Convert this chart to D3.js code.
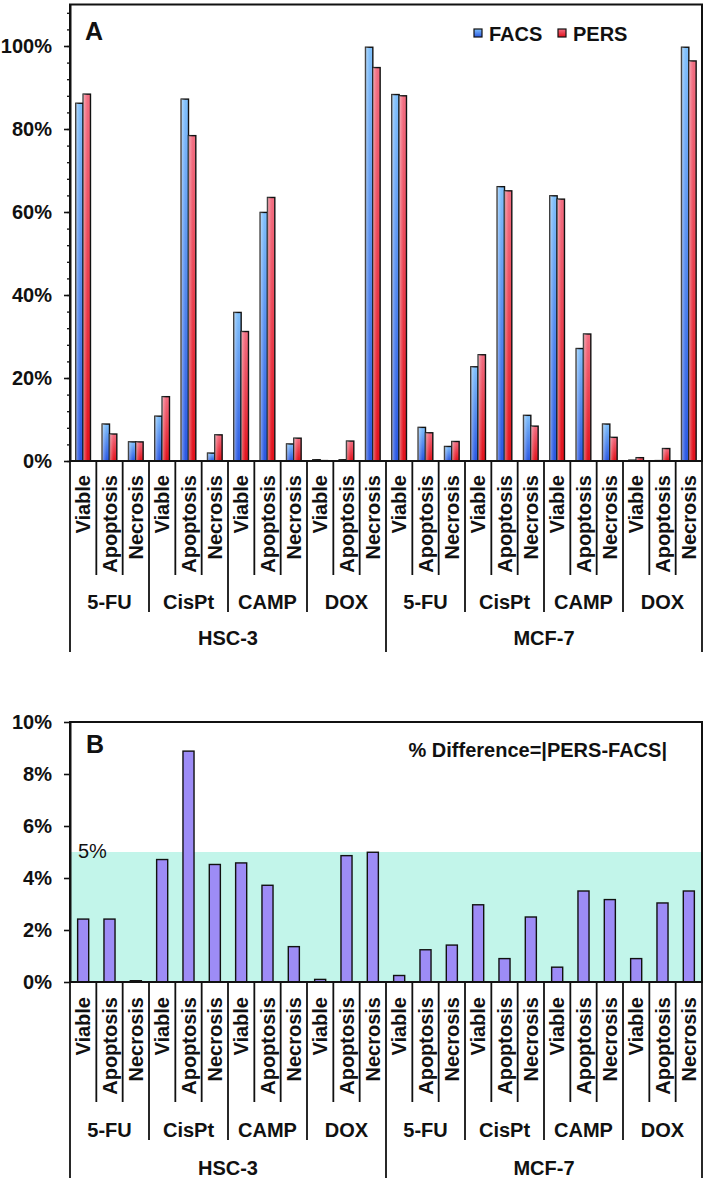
<!DOCTYPE html>
<html><head><meta charset="utf-8">
<script src="https://cdn.jsdelivr.net/npm/d3@7"></script>
<style>
html,body{margin:0;padding:0;background:#fff;}
svg{display:block;font-family:"Liberation Sans",Arial,sans-serif;}
</style></head>
<body>
<svg id="chart" width="707" height="1184"></svg>
<script>
// ---------------- data ----------------
const cellLines = ["HSC-3", "MCF-7"];
const drugs = ["5-FU", "CisPt", "CAMP", "DOX"];
const states = ["Viable", "Apoptosis", "Necrosis"];
const seriesNames = ["FACS", "PERS"];
// Panel A (% of cells), order: cell line > drug > state
const facs = [86.2, 8.9, 4.6, 10.8, 87.2, 1.9, 35.8, 59.9, 4.1, 0.3, 0.3, 99.7,
              88.3, 8.1, 3.5, 22.7, 66.1, 11.0, 63.9, 27.1, 8.9, 0.2, 0.1, 99.7];
const pers = [88.4, 6.5, 4.6, 15.5, 78.4, 6.3, 31.2, 63.5, 5.5, 0.1, 4.8, 94.8,
              88.0, 6.8, 4.7, 25.6, 65.1, 8.4, 63.1, 30.6, 5.7, 0.8, 3.0, 96.4];
// Panel B: |PERS - FACS| (%)
const diff = [2.42, 2.42, 0.05, 4.71, 8.88, 4.52, 4.58, 3.72, 1.36, 0.1, 4.86, 4.99,
              0.25, 1.24, 1.42, 2.97, 0.9, 2.5, 0.57, 3.5, 3.17, 0.9, 3.04, 3.5];
const ticksA = [0, 20, 40, 60, 80, 100];
const minorA = d3.range(0, 110, 4);
const ticksB = [0, 2, 4, 6, 8, 10];
const threshold = 5;
const diffTitle = "% Difference=|PERS-FACS|";

// ---------------- build ----------------
const cats = [];
cellLines.forEach(c => drugs.forEach(d => states.forEach(s => cats.push({cell: c, drug: d, state: s, key: c + "|" + d + "|" + s}))));
const keys = cats.map(d => d.key);

const svg = d3.select("#chart");
const FONT = '"Liberation Sans",Arial,sans-serif';
const FS = 20;
const L = 70, R = 702;

const x = d3.scaleBand().domain(keys).range([L, R]).paddingInner(0).paddingOuter(0);
const xs = d3.scaleBand().domain(seriesNames).range([0, x.bandwidth()]).paddingInner(0).paddingOuter(0.8);
const xB = x.copy().paddingInner(0.58).paddingOuter(0.29);

const yA = d3.scaleLinear().domain([0, 110]).range([461, 4.5]);
const yB = d3.scaleLinear().domain([0, 10]).range([982, 722]);

// gradients
const defs = svg.append("defs");
function grad(id, top, bottom) {
  const g = defs.append("linearGradient").attr("id", id).attr("x1", 0).attr("y1", 0).attr("x2", 0).attr("y2", 1);
  g.append("stop").attr("offset", "0%").attr("stop-color", top);
  g.append("stop").attr("offset", "100%").attr("stop-color", bottom);
}
grad("gF", "#80c0fb", "#2a58e2");
grad("gP", "#f26e82", "#e2121c");
const hl = defs.append("linearGradient").attr("id", "hl").attr("x1", 0).attr("y1", 0).attr("x2", 1).attr("y2", 0);
hl.append("stop").attr("offset", "0%").attr("stop-color", "#fff").attr("stop-opacity", 0.45);
hl.append("stop").attr("offset", "35%").attr("stop-color", "#fff").attr("stop-opacity", 0.15);
hl.append("stop").attr("offset", "60%").attr("stop-color", "#fff").attr("stop-opacity", 0);

function yAxis(g, y, ticks, minor) {
  if (minor) {
    g.append("g").call(d3.axisLeft(y).tickValues(minor).tickSize(3).tickSizeOuter(0).tickFormat(""))
      .call(a => a.select(".domain").remove())
      .call(a => a.selectAll("line").attr("stroke", "#111").attr("stroke-width", 1.3));
  }
  g.append("g").call(d3.axisLeft(y).tickValues(ticks).tickSize(6).tickSizeOuter(0).tickPadding(12).tickFormat(d => d + "%"))
    .call(a => a.select(".domain").attr("stroke", "#111").attr("stroke-width", 2))
    .call(a => a.selectAll("line").attr("stroke", "#111").attr("stroke-width", 1.6))
    .call(a => a.selectAll("text").attr("font-family", FONT).attr("font-size", FS).attr("font-weight", "bold").attr("fill", "#111"));
}

function catAxis(g, base, o) {
  g.append("line").attr("x1", L).attr("x2", R).attr("y1", base).attr("y2", base).attr("stroke", "#111").attr("stroke-width", 2);
  const bounds = d3.range(keys.length + 1);
  g.selectAll(".sep").data(bounds).join("line")
    .attr("x1", i => i < keys.length ? x(keys[i]) : R)
    .attr("x2", i => i < keys.length ? x(keys[i]) : R)
    .attr("y1", base)
    .attr("y2", i => i % 12 === 0 ? base + o.mainSep : (i % 3 === 0 ? base + o.grpSep : base + o.sep))
    .attr("stroke", "#111").attr("stroke-width", 1.8);
  g.selectAll(".st").data(cats).join("text")
    .attr("transform", d => `translate(${x(d.key) + x.bandwidth() / 2},${base + o.stEnd}) rotate(-90)`)
    .attr("text-anchor", "end").attr("dy", "0.36em")
    .attr("font-family", FONT).attr("font-size", FS).attr("font-weight", "bold").attr("fill", "#111")
    .text(d => d.state);
  const groups = [];
  cellLines.forEach(c => drugs.forEach(d => groups.push({cell: c, drug: d})));
  g.selectAll(".dg").data(groups).join("text")
    .attr("x", d => { const k0 = d.cell + "|" + d.drug + "|" + states[0], k2 = d.cell + "|" + d.drug + "|" + states[2]; return (x(k0) + x(k2) + x.bandwidth()) / 2; })
    .attr("y", base + o.grpBase)
    .attr("text-anchor", "middle")
    .attr("font-family", FONT).attr("font-size", FS).attr("font-weight", "bold").attr("fill", "#111")
    .text(d => d.drug);
  g.selectAll(".cl").data(cellLines).join("text")
    .attr("x", c => { const k0 = c + "|" + drugs[0] + "|" + states[0], k2 = c + "|" + drugs[drugs.length - 1] + "|" + states[2]; return (x(k0) + x(k2) + x.bandwidth()) / 2; })
    .attr("y", base + o.cellBase)
    .attr("text-anchor", "middle")
    .attr("font-family", FONT).attr("font-size", FS).attr("font-weight", "bold").attr("fill", "#111")
    .text(c => c);
}

// ---------------- Panel A ----------------
const gA = svg.append("g");
gA.append("rect").attr("x", L).attr("y", yA(110)).attr("width", R - L).attr("height", yA(0) - yA(110))
  .attr("fill", "none").attr("stroke", "#111").attr("stroke-width", 2);

const rowsA = cats.map((c, i) => ({key: c.key, FACS: facs[i], PERS: pers[i]}));
const barG = gA.append("g");
seriesNames.forEach(s => {
  barG.selectAll(".b" + s).data(rowsA).join("rect")
    .attr("x", d => x(d.key) + xs(s)).attr("width", xs.bandwidth())
    .attr("y", d => yA(d[s])).attr("height", d => yA(0) - yA(d[s]))
    .attr("fill", s === "FACS" ? "url(#gF)" : "url(#gP)")
    .attr("stroke", "#111").attr("stroke-width", 1.4);
  barG.selectAll(".h" + s).data(rowsA).join("rect")
    .attr("x", d => x(d.key) + xs(s)).attr("width", xs.bandwidth())
    .attr("y", d => yA(d[s])).attr("height", d => yA(0) - yA(d[s]))
    .attr("fill", "url(#hl)").attr("stroke", "none");
});
yAxis(gA.append("g").attr("transform", `translate(${L},0)`), yA, ticksA, minorA);
catAxis(gA, yA(0), {stEnd: 14, sep: 114, grpBase: 148, grpSep: 151, cellBase: 184, mainSep: 191});

gA.append("text").attr("x", 85).attr("y", 40).attr("font-family", FONT).attr("font-size", 25).attr("font-weight", "bold").attr("fill", "#111").text("A");
const leg = gA.append("g");
const legX = {FACS: 474, PERS: 558};
seriesNames.forEach(s => {
  leg.append("rect").attr("x", legX[s]).attr("y", 29).attr("width", 8).attr("height", 8)
    .attr("fill", s === "FACS" ? "url(#gF)" : "url(#gP)").attr("stroke", "#111").attr("stroke-width", 1.2);
  leg.append("text").attr("x", legX[s] + 15).attr("y", 41).attr("font-family", FONT).attr("font-size", FS).attr("font-weight", "bold").attr("fill", "#111").text(s);
});

// ---------------- Panel B ----------------
const gB = svg.append("g");
gB.append("rect").attr("x", L).attr("y", yB(threshold)).attr("width", R - L).attr("height", yB(0) - yB(threshold)).attr("fill", "#c2f5ea");
gB.append("rect").attr("x", L).attr("y", yB(10)).attr("width", R - L).attr("height", yB(0) - yB(10))
  .attr("fill", "none").attr("stroke", "#111").attr("stroke-width", 2);
gB.append("g").selectAll("rect").data(cats.map((c, i) => ({key: c.key, v: diff[i]}))).join("rect")
  .attr("x", d => xB(d.key)).attr("width", xB.bandwidth())
  .attr("y", d => yB(d.v)).attr("height", d => yB(0) - yB(d.v))
  .attr("fill", "#9d8cf6").attr("stroke", "#111").attr("stroke-width", 1.4);
yAxis(gB.append("g").attr("transform", `translate(${L},0)`), yB, ticksB, null);
catAxis(gB, yB(0), {stEnd: 15, sep: 120, grpBase: 155, grpSep: 158, cellBase: 193, mainSep: 196});

gB.append("text").attr("x", 86).attr("y", 753).attr("font-family", FONT).attr("font-size", 25).attr("font-weight", "bold").attr("fill", "#111").text("B");
gB.append("text").attr("x", 78).attr("y", yB(threshold) + 6).attr("font-family", FONT).attr("font-size", 20).attr("fill", "#111").text(threshold + "%");
gB.append("text").attr("x", 667).attr("y", 757).attr("text-anchor", "end").attr("font-family", FONT).attr("font-size", FS).attr("font-weight", "bold").attr("fill", "#111").text(diffTitle);
</script>
</body></html>
